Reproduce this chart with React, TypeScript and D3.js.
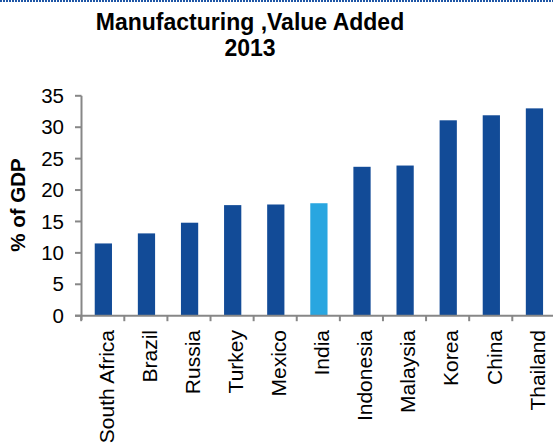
import React from "react";
import * as d3 from "d3";

const categories = ["South Africa", "Brazil", "Russia", "Turkey", "Mexico", "India", "Indonesia", "Malaysia", "Korea", "China", "Thailand"];
const values = [11.5, 13.1, 14.8, 17.6, 17.7, 17.9, 23.7, 23.9, 31.1, 31.9, 33.0];
const highlight = ["India"];
const yTicks = [0, 5, 10, 15, 20, 25, 30, 35];
const titleLines = ["Manufacturing ,Value Added", "2013"];
const yLabel = "% of GDP";

const W = 553;
const H = 446;

export default function App() {
  const x = d3.scaleBand<string>().domain(categories).range([81.2, 555.4]).padding(0);
  const y = d3.scaleLinear().domain([0, 35]).range([315.7, 95.8]);
  const bw = x.bandwidth() * 0.4;
  const axisColor = "#878787";
  const font = "'Liberation Sans', Arial, sans-serif";
  const boundaries = categories.map((c) => x(c) as number).concat([(x(categories[categories.length - 1]) as number) + x.bandwidth()]);

  return (
    <svg width={W} height={H} style={{ position: "fixed", left: 0, top: 0, background: "#fff" }} fontFamily={font}>
      <rect x={0} y={0} width={W} height={H} fill="#fff" />
      <line x1={0} x2={W} y1={1} y2={1} stroke="#1f56a6" strokeWidth={2} strokeDasharray="2,1" />
      {titleLines.map((t, i) => (
        <text key={t} x={250} y={29.5 + i * 26} textAnchor="middle" fontWeight="bold" fontSize={23} fill="#000">
          {t}
        </text>
      ))}
      <text transform={`translate(25,205) rotate(-90)`} textAnchor="middle" fontWeight="bold" fontSize={20.5} fill="#000">
        {yLabel}
      </text>
      {categories.map((c, i) => {
        const cx = (x(c) as number) + x.bandwidth() / 2 + 0.6;
        return (
          <rect
            key={c}
            x={cx - bw / 2}
            y={y(values[i])}
            width={bw}
            height={y(0) - y(values[i])}
            fill={highlight.includes(c) ? "#29a6e0" : "#124b97"}
          />
        );
      })}
      {/* y axis */}
      <line x1={81.5} x2={81.5} y1={y(35)} y2={320} stroke={axisColor} strokeWidth={2} />
      {yTicks.map((t) => (
        <g key={t}>
          <line x1={75} x2={81.5} y1={y(t)} y2={y(t)} stroke={axisColor} strokeWidth={2} />
          <text x={64} y={y(t)} dy="0.35em" textAnchor="end" fontSize={20.5} fill="#000">
            {t}
          </text>
        </g>
      ))}
      {/* x axis */}
      <line x1={75} x2={W} y1={y(0)} y2={y(0)} stroke={axisColor} strokeWidth={2} />
      {boundaries.map((b, i) => (
        <line key={i} x1={b} x2={b} y1={y(0)} y2={y(0) + 5.5} stroke={axisColor} strokeWidth={2} />
      ))}
      {categories.map((c) => {
        const cx = (x(c) as number) + x.bandwidth() / 2;
        return (
          <text key={c} transform={`translate(${cx + 10.8},330) rotate(-90)`} textAnchor="end" fontSize={21} fill="#000">
            {c}
          </text>
        );
      })}
    </svg>
  );
}
